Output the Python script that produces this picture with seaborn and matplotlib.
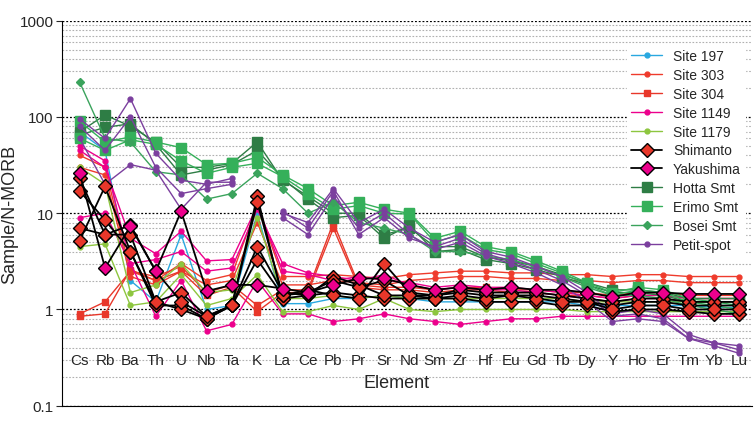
import matplotlib
matplotlib.use("Agg")
import matplotlib.pyplot as plt
import numpy as np
import seaborn as sns

elements = ["Cs", "Rb", "Ba", "Th", "U", "Nb", "Ta", "K", "La", "Ce", "Pb", "Pr", "Sr", "Nd",
            "Sm", "Zr", "Hf", "Eu", "Gd", "Tb", "Dy", "Y", "Ho", "Er", "Tm", "Yb", "Lu"]
nan = np.nan

site_197 = [
    [70, 45, 2, 1.2, 6, 1.0, 1.1, 10, 1.15, 1.15, 1.3, 1.3, 1.4, 1.3, 1.2, 1.2, 1.2, 1.2, 1.2, 1.2, 1.1, 1.1, 1.1, 1.1, 1.1, 1.05, 1.05],
]
site_303 = [
    [40, 30, 2.5, 2, 3, 2, 2.3, 12, 2.2, 2.2, 2.3, 2.2, 2.1, 2.3, 2.4, 2.5, 2.5, 2.4, 2.4, 2.3, 2.3, 2.2, 2.3, 2.3, 2.2, 2.2, 2.2],
    [30, 25, 2.2, 1.8, 2.5, 1.8, 2, 8, 1.8, 1.8, 2, 1.9, 1.8, 2, 2.1, 2.2, 2.2, 2.1, 2.1, 2.0, 2, 1.9, 2, 2, 1.9, 1.9, 1.9],
]
site_304 = [
    [0.9, 1.2, 2.5, 2.2, 2.8, 1.5, 1.8, 1.1, 1.6, 1.6, 8, 1.8, 1.7, 1.7, 1.6, 1.7, 1.7, 1.6, 1.6, 1.5, 1.5, 1.4, 1.5, 1.5, 1.4, 1.4, 1.4],
    [0.85, 0.9, 2.6, 2.0, 2.5, 1.4, 1.7, 0.95, 1.5, 1.5, 7, 1.7, 1.6, 1.6, 1.5, 1.6, 1.6, 1.5, 1.5, 1.4, 1.4, 1.3, 1.4, 1.4, 1.3, 1.3, 1.3],
]
site_1149 = [
    [50, 35, 3, 3.3, 4, 2.5, 2.7, 11, 3, 2.4, 2.2, 2, 2.3, 1.8, 1.6, 1.7, 1.6, 1.6, 1.5, 1.4, 1.3, 1.2, 1.3, 1.3, 1.2, 1.2, 1.2],
    [9, 10, 3, 0.85, 2, 0.6, 0.7, 2, 0.9, 0.9, 0.75, 0.8, 0.9, 0.8, 0.75, 0.7, 0.75, 0.8, 0.8, 0.85, 0.85, 0.85, 0.85, 0.85, 0.85, 0.85, 0.85],
    [45, 30, 5.5, 3.8, 6.5, 3.2, 3.3, 12, 2.5, 2.3, 2.0, 2.2, 2, 1.9, 1.7, 1.8, 1.7, 1.7, 1.6, 1.5, 1.4, 1.3, 1.4, 1.4, 1.3, 1.3, 1.3],
]
site_1179 = [
    [4.5, 4.8, 1.1, 1.2, 2.3, 1.1, 1.3, 2.3, 0.95, 0.95, 1.1, 1.0, 1.3, 1.0, 0.95, 1.0, 1.0, 1.0, 1.0, 1.0, 0.95, 0.95, 0.95, 0.95, 0.95, 0.95, 0.95],
    [30, 20, 1.5, 1.8, 3, 1.5, 1.6, 9, 1.3, 1.3, 1.4, 1.3, 1.4, 1.3, 1.3, 1.3, 1.3, 1.3, 1.3, 1.3, 1.2, 1.2, 1.2, 1.2, 1.2, 1.2, 1.2],
]
shimanto = [
    [17, 8.5, 4, 1.1, 1.1, 0.8, 1.1, 15, 1.3, 1.4, 1.5, 1.4, 1.3, 1.3, 1.3, 1.3, 1.2, 1.2, 1.2, 1.1, 1.1, 0.95, 1.0, 1.0, 0.95, 0.9, 0.9],
    [7, 6, 6, 1.2, 1.5, 0.85, 1.1, 4.5, 1.5, 1.4, 2.2, 1.8, 1.4, 1.4, 1.4, 1.5, 1.4, 1.4, 1.4, 1.3, 1.2, 1.1, 1.2, 1.2, 1.1, 1.1, 1.1],
    [5.2, 19, 4, 1.2, 1.0, 0.8, 1.1, 3.3, 1.4, 1.6, 1.4, 1.3, 3, 1.5, 1.4, 1.6, 1.5, 1.5, 1.5, 1.4, 1.3, 1.2, 1.3, 1.3, 1.2, 1.2, 1.2],
    [23, 6, 7.5, 2.5, 1.2, 0.85, 1.1, 13, 1.4, 1.5, 2, 1.7, 2.0, 1.4, 1.3, 1.4, 1.3, 1.4, 1.3, 1.2, 1.2, 1.0, 1.1, 1.1, 1.0, 1.0, 1.0],
]
yakushima = [
    [26, 2.7, 7.3, 2.5, 10.5, 1.55, 1.8, 1.8, 1.65, 1.5, 1.8, 2.1, 2.1, 1.8, 1.6, 1.7, 1.6, 1.7, 1.6, 1.6, 1.5, 1.35, 1.5, 1.5, 1.45, 1.45, 1.45],
]
hotta = [
    [70, 105, 80, 55, 30, 30, 33, 55, 22, 15, 10, 10, 6, 7, 4.5, 4.5, 3.5, 3.2, 2.8, 2.3, 1.9, 1.6, 1.6, 1.5, 1.3, 1.3, 1.3],
    [65, 78, 85, 52, 25, 28, 32, 45, 23, 14, 9, 9.5, 5.5, 7.5, 4, 4.2, 3.3, 3, 2.6, 2.2, 1.8, 1.5, 1.5, 1.4, 1.2, 1.2, 1.2],
]
erimo = [
    [90, 55, 62, 55, 48, 32, 33, 38, 25, 18, 12, 13, 11, 10, 5.5, 6.5, 4.5, 4, 3.2, 2.5, 1.9, 1.5, 1.7, 1.6, 1.3, 1.2, 1.1],
    [60, 45, 58, 52, 35, 26, 30, 33, 24, 16, 11, 12, 10, 9.8, 5, 6, 4.2, 3.8, 3, 2.4, 1.8, 1.4, 1.6, 1.5, 1.2, 1.1, 1.0],
]
bosei = [
    [230, 60, 55, 27, 25, 14, 16, 26, 18, 10, 13, 8, 7, 6, 4, 4, 3.6, 3.3, 2.8, 2.2, 1.7, 1.4, 1.4, 1.3, 1.1, 1.0, 0.9],
]
petit_spot = [
    [95, 60, 155, 42, 22, 20, 23, nan, 10, 8, 18, 8, 11, 7, 5, 6, 4, 3.5, 2.8, 2.2, 1.5, 0.9, 1.0, 0.9, 0.55, 0.45, 0.42],
    [80, 45, 100, 30, 16, 18, 20, nan, 9, 6, 15, 7, 10, 6, 4.2, 5, 3.6, 3, 2.4, 1.8, 1.2, 0.75, 0.8, 0.75, 0.5, 0.42, 0.35],
    [60, 20, 32, 28, 11, 21, 21, nan, 10.5, 7, 17, 6, 9, 5.5, 4.5, 5.5, 3.8, 3.2, 2.6, 2, 1.4, 0.85, 0.9, 0.8, 0.5, 0.45, 0.38],
]

# (label, samples, line colour, marker, face colour, size, edge)
groups = [
    ("Site 197", site_197, "#29a8e0", "o", "#29a8e0", 3.5, "#29a8e0"),
    ("Site 303", site_303, "#ef3b2c", "o", "#ef3b2c", 3.5, "#ef3b2c"),
    ("Site 304", site_304, "#e8372a", "s", "#e8372a", 4, "#e8372a"),
    ("Site 1149", site_1149, "#ec008c", "o", "#ec008c", 3.5, "#ec008c"),
    ("Site 1179", site_1179, "#8dc63f", "o", "#8dc63f", 3.5, "#8dc63f"),
    ("Hotta Smt", hotta, "#2e7d45", "s", "#2e7d45", 7, "#2e7d45"),
    ("Erimo Smt", erimo, "#35b05a", "s", "#35b05a", 7, "#35b05a"),
    ("Bosei Smt", bosei, "#3aa35c", "D", "#3aa35c", 4, "#3aa35c"),
    ("Petit-spot", petit_spot, "#7b3f9e", "o", "#7b3f9e", 3.5, "#7b3f9e"),
    ("Shimanto", shimanto, "black", "D", "#e8372a", 7, "black"),
    ("Yakushima", yakushima, "black", "D", "#ec008c", 7, "black"),
]
legend_order = ["Site 197", "Site 303", "Site 304", "Site 1149", "Site 1179", "Shimanto",
                "Yakushima", "Hotta Smt", "Erimo Smt", "Bosei Smt", "Petit-spot"]

sns.set_style("white")
plt.rcParams["font.family"] = ["Liberation Sans", "DejaVu Sans"]
fig, ax = plt.subplots(figsize=(7.55, 4.35), dpi=100)
fig.subplots_adjust(left=0.082, right=0.996, top=0.95, bottom=0.065)

x = np.arange(len(elements))
handles = {}
for label, samples, lc, mk, fc, ms, ec in groups:
    lw = 1.3 if lc == "black" else 1.0
    for s in samples:
        line, = ax.plot(x, s, color=lc, lw=lw, marker=mk, markersize=ms,
                        markerfacecolor=fc, markeredgecolor=ec, markeredgewidth=1.0)
    handles[label] = line

ax.set_yscale("log")
ax.set_ylim(0.1, 1000)
ax.set_xlim(-0.7, 26.5)
ax.yaxis.grid(True, which="major", color="black", linestyle=(0, (1.5, 1.5)), lw=0.9)
ax.yaxis.grid(True, which="minor", color="#b0b0b0", linestyle=(0, (1.5, 1.5)), lw=0.8)
ax.set_axisbelow(True)
ax.set_yticks([0.1, 1, 10, 100, 1000])
ax.set_yticklabels(["0.1", "1", "10", "100", "1000"], fontsize=11)
ax.tick_params(axis="y", which="major", length=4, left=True, pad=2)
ax.tick_params(axis="y", which="minor", length=0)
ax.set_xticks(x)
ax.set_xticklabels([])
ax.tick_params(axis="x", length=0)
for xi, el in zip(x, elements):
    ax.text(xi, 0.3, el, ha="center", va="center", fontsize=11)
ax.text(12.5, 0.175, "Element", ha="center", va="center", fontsize=13)
ax.set_ylabel("Sample/N-MORB", fontsize=13, labelpad=1)
for side in ["top", "right"]:
    ax.spines[side].set_visible(False)
ax.spines["left"].set_color("black")
ax.spines["bottom"].set_color("black")

leg = ax.legend([handles[k] for k in legend_order], legend_order, loc="upper right",
                bbox_to_anchor=(1.0, 0.955), fontsize=10, frameon=True, framealpha=1,
                edgecolor="white", handlelength=2.2, labelspacing=0.35, borderpad=0.3)
fig.savefig("out.png", dpi=100)
